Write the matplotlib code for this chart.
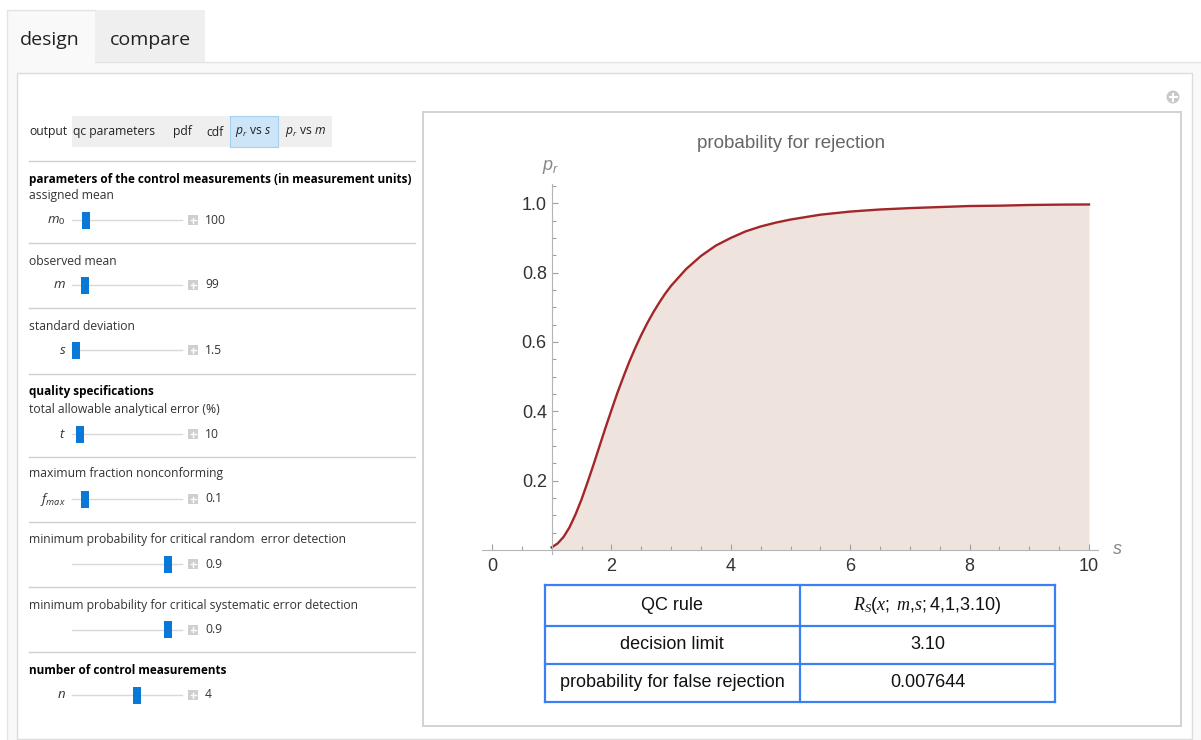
import matplotlib
matplotlib.use("Agg")
import matplotlib.pyplot as plt
from matplotlib.patches import Rectangle, Circle
import numpy as np

plt.rcParams['font.family'] = ['Liberation Sans', 'DejaVu Sans']
plt.rcParams['mathtext.fontset'] = 'custom'
plt.rcParams['mathtext.rm'] = 'Liberation Sans'
plt.rcParams['mathtext.it'] = 'Liberation Serif:italic'
plt.rcParams['mathtext.sf'] = 'Liberation Sans:italic'
plt.rcParams['mathtext.tt'] = 'Open Sans:italic'

# probability for rejection vs s
s_vals = [1.0, 1.1, 1.2, 1.3, 1.4, 1.5, 1.6, 1.7, 1.8, 1.9,
          2.0, 2.1, 2.2, 2.3, 2.4, 2.5, 2.6, 2.7, 2.8, 2.9,
          3.0, 3.25, 3.5, 3.75, 4.0, 4.25, 4.5, 4.75, 5.0,
          5.5, 6.0, 6.5, 7.0, 7.5, 8.0, 8.5, 9.0, 9.5, 10.0]
p_vals = [0.0076, 0.019, 0.038, 0.066, 0.103, 0.146, 0.195, 0.246, 0.299, 0.352,
          0.403, 0.453, 0.499, 0.543, 0.583, 0.620, 0.654, 0.685, 0.713, 0.739,
          0.762, 0.810, 0.848, 0.878, 0.900, 0.919, 0.933, 0.944, 0.953,
          0.967, 0.976, 0.982, 0.986, 0.989, 0.992, 0.993, 0.995, 0.996, 0.9965]

x_ticks = [0, 2, 4, 6, 8, 10]
y_ticks = [0.2, 0.4, 0.6, 0.8, 1.0]

table_labels = ["QC rule", "decision limit", "probability for false rejection"]
table_values = [r"$R_S(x{;}\ m{,}s{;}4{,}1{,}3.10)$", "3.10", "0.007644"]

tabs = ["design", "compare"]
output_buttons = ["qc parameters", "pdf", "cdf", r"$\mathtt{p_r}$ vs $\mathtt{s}$", r"$\mathtt{p_r}$ vs $\mathtt{m}$"]
selected_button = 3

headings = ["parameters of the control measurements (in measurement units)",
            "quality specifications", "number of control measurements"]
captions = ["assigned mean", "observed mean", "standard deviation",
            "total allowable analytical error (%)", "maximum fraction nonconforming",
            "minimum probability for critical random  error detection",
            "minimum probability for critical systematic error detection"]
symbols = [r"$\mathtt{m}_0$", r"$\mathtt{m}$", r"$\mathtt{s}$", r"$\mathtt{t}$",
           r"$\mathtt{f_{max}}$", "", "", r"$\mathtt{n}$"]
values = ["100", "99", "1.5", "10", "0.1", "0.9", "0.9", "4"]

# layout (pixels)
heading_y = [179, 391.5, 670]
caption_y = [196, 261.5, 326, 409.5, 474, 540, 605]
slider_y = [220, 285, 350, 434, 499, 564, 629.5, 695]
thumb_x = [85.7, 85, 75.8, 80.3, 84.5, 167.8, 167.8, 136.7]
sep_y = [161, 243.3, 308.3, 374, 456.7, 521.7, 587.3, 652.3]
button_x = [114.5, 182.5, 215.3, 253, 305.7]

W, H = 1201, 740
fig = plt.figure(figsize=(W / 100, H / 100), dpi=100)
bg = fig.add_axes([0, 0, 1, 1])
bg.set_xlim(0, W)
bg.set_ylim(H, 0)
bg.axis('off')

# tabs and frames
bg.add_patch(Rectangle((6.7, 61.7), W, H, fc='#f9f9f9', ec='none'))
bg.add_patch(Rectangle((6.7, 10), 88.3, 52, fc='#f9f9f9', ec='none'))
bg.add_patch(Rectangle((95, 10), 110, 51.7, fc='#efefef', ec='none'))
bg.plot([6.7, 6.7, 95], [H, 10, 10], color='#e4e4e4', lw=1)
bg.plot([95, W], [61.7, 61.7], color='#e4e4e4', lw=1)
bg.text(50, 40, tabs[0], fontsize=14, family='Open Sans', color='#222', ha='center', va='center')
bg.text(150, 40, tabs[1], fontsize=14, family='Open Sans', color='#222', ha='center', va='center')
bg.add_patch(Rectangle((17.3, 72.7), 1174.4, 666.3, fc='white', ec='#dcdcdc', lw=1))

# plot frame and icon
bg.add_patch(Rectangle((422.5, 111.7), 758, 614, fc='white', ec='#d2d2d2', lw=1.4))
bg.add_patch(Circle((1173, 97), 6.5, fc='#c8c8c8', ec='none'))
bg.plot([1169.5, 1176.5], [97, 97], color='white', lw=1.5)
bg.plot([1173, 1173], [93.5, 100.5], color='white', lw=1.5)

# output setter bar
bg.text(29.3, 131, "output", fontsize=8.7, family='Open Sans', color='#222', va='center')
bg.add_patch(Rectangle((71.7, 116), 260, 30.7, fc='#efefef', ec='none'))
bg.add_patch(Rectangle((230, 116), 47.7, 30.7, fc='#cde5f8', ec='#a6d0f0', lw=0.8))
for bx, lab in zip(button_x, output_buttons):
    bg.text(bx, 132, lab, fontsize=8.7, family='Open Sans', color='#222', ha='center', va='center')

# control panel
for y in sep_y:
    bg.plot([29.3, 415], [y, y], color='#cfcfcf', lw=1)
for y, t in zip(heading_y, headings):
    bg.text(29.3, y, t, fontsize=8.5, family='Open Sans', weight='bold', color='black', va='center')
for y, t in zip(caption_y, captions):
    bg.text(29.3, y, t, fontsize=8.7, family='Open Sans', color='#333', va='center')
for y, tx, sym, val in zip(slider_y, thumb_x, symbols, values):
    bg.plot([72, 182], [y, y], color='#d8d8d8', lw=1, zorder=2)
    bg.add_patch(Rectangle((tx - 4, y - 8.5), 8, 17, fc='#0a78d7', ec='none', zorder=3))
    bg.add_patch(Rectangle((188, y - 5), 10, 10, fc='#cfcfcf', ec='none', zorder=3))
    bg.plot([190.5, 195.5], [y, y], color='white', lw=1, zorder=4)
    bg.plot([193, 193], [y - 2.5, y + 2.5], color='white', lw=1, zorder=4)
    bg.text(205, y, val, fontsize=8.7, family='Open Sans', color='#333', va='center')
    if sym:
        bg.text(66, y, sym, fontsize=9.5, family='Open Sans', color='#333', ha='right', va='center')

# chart
X0, XS = 492.0, 59.7
Y0, YS = 550.0, 346.75
xlim = (-0.17, 10.15)
ylim = (-0.012, 1.055)
left = X0 + xlim[0] * XS
right = X0 + xlim[1] * XS
top = Y0 - ylim[1] * YS
bottom = Y0 - ylim[0] * YS
ax = fig.add_axes([left / W, 1 - bottom / H, (right - left) / W, (bottom - top) / H])
ax.set_facecolor('none')
ax.set_xlim(*xlim)
ax.set_ylim(*ylim)
ax.fill_between(s_vals, p_vals, 0, color='#eee4dd', lw=0)
ax.plot(s_vals, p_vals, color='#a3262a', lw=1.7)

for side in ['top', 'right']:
    ax.spines[side].set_visible(False)
ax.spines['left'].set_position(('data', 1))
ax.spines['bottom'].set_position(('data', 0))
for side in ['left', 'bottom']:
    ax.spines[side].set_color('#b5b5b5')
    ax.spines[side].set_linewidth(0.8)
ax.set_xticks(x_ticks)
ax.set_xticks(np.arange(0, 10.01, 0.5), minor=True)
ax.set_yticks(y_ticks)
ax.set_yticklabels([f"{v:.1f}" for v in y_ticks])
ax.set_yticks(np.arange(0.05, 1.06, 0.05), minor=True)
ax.tick_params(which='both', direction='in', color='#a0a0a0', width=0.8)
ax.tick_params(which='major', length=4.5)
ax.tick_params(which='minor', length=2.8)
ax.tick_params(axis='x', labelsize=13, pad=6, labelcolor='#333')
ax.tick_params(axis='y', labelsize=13, pad=3.5, labelcolor='#333')

bg.text(791, 143, "probability for rejection", fontsize=13.5, color='#666', ha='center', va='center')
bg.text(550.5, 167, r"$\mathsf{p_r}$", fontsize=13, color='#888', ha='center', va='center')
bg.text(1117, 550, r"$\mathsf{s}$", fontsize=13, color='#888', ha='center', va='center')

# result table
tx0, tx1, tx2 = 544.5, 800, 1055
row_edges = [585.3, 625.7, 663.7, 701.7]
for y in row_edges:
    bg.plot([tx0, tx2], [y, y], color='#3a80f2', lw=1.6)
for x in [tx0, tx1, tx2]:
    bg.plot([x, x], [row_edges[0], row_edges[-1]], color='#3a80f2', lw=1.6)
for i in range(3):
    yc = (row_edges[i] + row_edges[i + 1]) / 2
    bg.text((tx0 + tx1) / 2, yc, table_labels[i], fontsize=13, color='#111', ha='center', va='center')
    bg.text((tx1 + tx2) / 2, yc, table_values[i], fontsize=13, color='#111', ha='center', va='center')

fig.savefig("out.png", dpi=100)
